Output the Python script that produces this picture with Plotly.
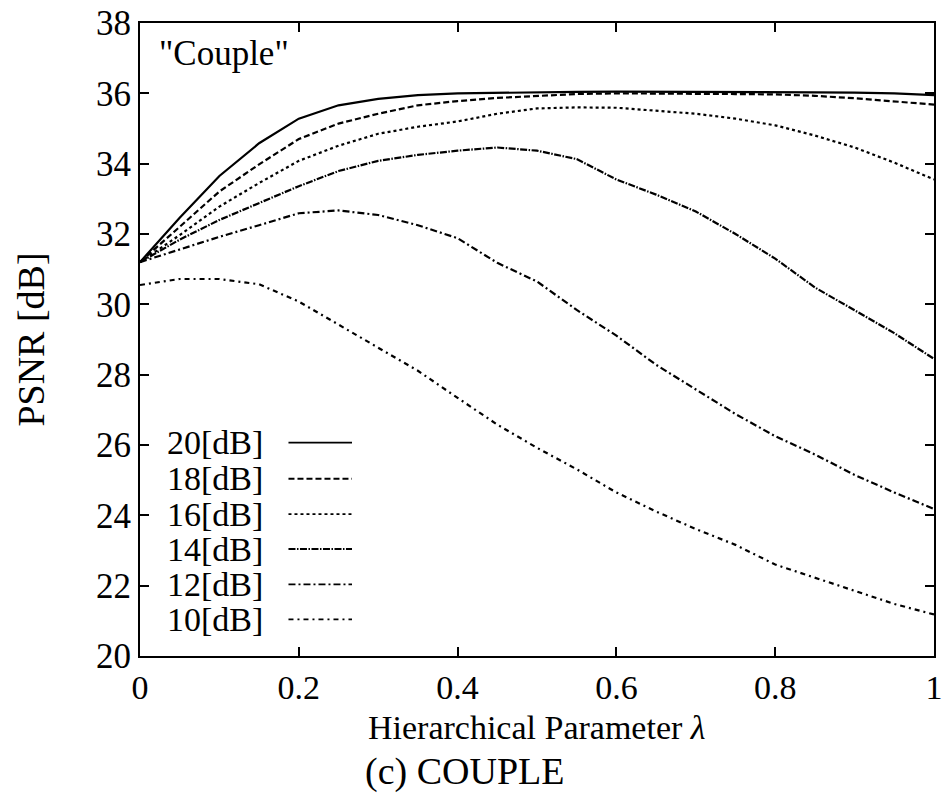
import plotly.graph_objects as go

lam = [0.0, 0.05, 0.1, 0.15, 0.2, 0.25, 0.3, 0.35, 0.4, 0.45, 0.5,
       0.55, 0.6, 0.65, 0.7, 0.75, 0.8, 0.85, 0.9, 0.95, 1.0]

psnr_20 = [31.2, 32.46, 33.65, 34.58, 35.28, 35.66, 35.84, 35.95, 36.0, 36.02, 36.03,
           36.04, 36.05, 36.05, 36.05, 36.05, 36.04, 36.03, 36.02, 36.0, 35.95]
psnr_18 = [31.2, 32.2, 33.21, 33.98, 34.7, 35.14, 35.42, 35.66, 35.78, 35.87, 35.93,
           35.98, 36.0, 36.0, 36.0, 35.98, 35.97, 35.93, 35.86, 35.78, 35.68]
psnr_16 = [31.2, 31.97, 32.78, 33.45, 34.08, 34.51, 34.85, 35.05, 35.2, 35.42, 35.57,
           35.6, 35.59, 35.5, 35.42, 35.28, 35.09, 34.8, 34.46, 34.03, 33.55]
psnr_14 = [31.2, 31.84, 32.4, 32.88, 33.36, 33.79, 34.08, 34.25, 34.37, 34.46, 34.37,
           34.13, 33.55, 33.12, 32.64, 32.0, 31.3, 30.48, 29.84, 29.18, 28.45]
psnr_12 = [31.2, 31.57, 31.92, 32.25, 32.59, 32.67, 32.54, 32.25, 31.88, 31.18, 30.65,
           29.84, 29.11, 28.28, 27.58, 26.88, 26.25, 25.73, 25.15, 24.65, 24.18]
psnr_10 = [30.55, 30.72, 30.72, 30.57, 30.08, 29.42, 28.75, 28.11, 27.34, 26.58, 25.92,
           25.31, 24.65, 24.11, 23.61, 23.16, 22.6, 22.22, 21.84, 21.48, 21.18]

series_names = ["20[dB]", "18[dB]", "16[dB]", "14[dB]", "12[dB]", "10[dB]"]
series_vals = [psnr_20, psnr_18, psnr_16, psnr_14, psnr_12, psnr_10]
dashes = ["solid", "6px,3px", "3px,3px", "7px,1.5px,1.5px,1.5px",
          "7px,3px,2px,3px", "5px,4px,2px,4px"]

x_tickvals = [0, 0.2, 0.4, 0.6, 0.8, 1.0]
x_ticktext = ["0", "0.2", "0.4", "0.6", "0.8", "1"]
y_tickvals = [20, 22, 24, 26, 28, 30, 32, 34, 36, 38]

FONT = "Liberation Serif"

fig = go.Figure()
for name, vals, d in zip(series_names, series_vals, dashes):
    fig.add_trace(go.Scatter(x=lam, y=vals, mode="lines", name=name,
                             line=dict(color="black", width=2.2, dash=d),
                             showlegend=False))

# custom legend (text right, line sample to the right of text)
leg_y = [0.337, 0.280, 0.224, 0.169, 0.113, 0.058]
for name, d, yy in zip(series_names, dashes, leg_y):
    fig.add_annotation(x=0.158, y=yy, xref="paper", yref="paper", text=name,
                       showarrow=False, xanchor="right", yanchor="middle",
                       font=dict(family=FONT, size=34, color="black"))
    fig.add_shape(type="line", xref="paper", yref="paper",
                  x0=0.187, x1=0.267, y0=yy, y1=yy,
                  line=dict(color="black", width=1.8, dash=d))

fig.add_annotation(x=0.022, y=0.952, xref="paper", yref="paper", text='"Couple"',
                   showarrow=False, xanchor="left", yanchor="middle",
                   font=dict(family=FONT, size=35, color="black"))

# x-axis title
fig.add_annotation(x=0.5, y=-0.113, xref="paper", yref="paper",
                   text="Hierarchical Parameter <i>λ</i>",
                   showarrow=False, xanchor="center", yanchor="middle",
                   font=dict(family=FONT, size=34, color="black"))

# caption
fig.add_annotation(x=0.409, y=-0.182, xref="paper", yref="paper", text="(c) COUPLE",
                   showarrow=False, xanchor="center", yanchor="middle",
                   font=dict(family=FONT, size=38, color="black"))

fig.update_layout(
    width=942, height=799,
    margin=dict(l=140, r=8, t=23, b=143),
    paper_bgcolor="white", plot_bgcolor="white",
    font=dict(family=FONT, size=34, color="black"),
    xaxis=dict(range=[0, 1], tickvals=x_tickvals, ticktext=x_ticktext,
               automargin=False, ticklabeloverflow="allow",
               ticks="inside", ticklen=9, tickwidth=2, tickcolor="black",
               showline=True, linewidth=2, linecolor="black", mirror="ticks",
               showgrid=False, zeroline=False,
               tickfont=dict(family=FONT, size=34)),
    yaxis=dict(range=[20, 38], tickvals=y_tickvals,
               automargin=False, ticklabeloverflow="allow",
               ticks="inside", ticklen=9, tickwidth=2, tickcolor="black",
               showline=True, linewidth=2, linecolor="black", mirror="ticks",
               showgrid=False, zeroline=False,
               tickfont=dict(family=FONT, size=35),
               title=dict(text="PSNR [dB]", standoff=40,
                          font=dict(family=FONT, size=38))),
)

fig.write_html("out.html")
